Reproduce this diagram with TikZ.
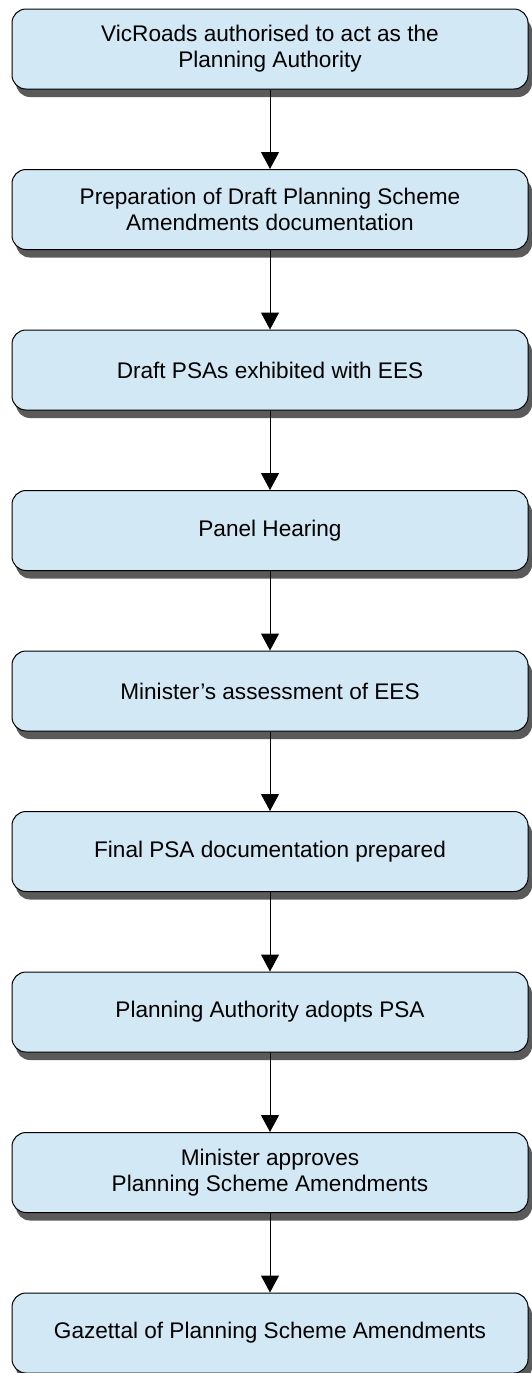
\documentclass[tikz,border=0pt]{standalone}
\usepackage{fontspec}
\setmainfont{Liberation Sans}
\usepackage{tikz}
\usetikzlibrary{positioning, arrows.meta, shadows}

\definecolor{boxblue}{HTML}{D2E8F5}
\definecolor{shadowgrey}{HTML}{5A5A5A}

\tikzset{
  stepbox/.style={draw=black, line width=0.5pt, fill=boxblue, rounded corners=7pt,
    minimum width=258pt, minimum height=40pt, align=center,
    font=\fontsize{11.3}{13}\selectfont,
    drop shadow={shadow xshift=2pt, shadow yshift=-4pt, fill=shadowgrey, opacity=1}},
  flow/.style={-{Triangle[width=9pt,length=8.5pt]}, line width=0.5pt}
}

\begin{document}
\begin{tikzpicture}[x=1pt, y=1pt]
\useasboundingbox (0,0) rectangle (265.5,-686.5);

\node[stepbox] (auth)    at (135,-24.5)  {VicRoads authorised to act as the\\Planning Authority};
\node[stepbox] (prep)    at (135,-104.75) {Preparation of Draft Planning Scheme\\Amendments documentation};
\node[stepbox] (exhibit) at (135,-185)   {Draft PSAs exhibited with EES};
\node[stepbox] (panel)   at (135,-265.25) {Panel Hearing};
\node[stepbox] (assess)  at (135,-345.5) {Minister’s assessment of EES};
\node[stepbox] (final)   at (135,-425.75) {Final PSA documentation prepared};
\node[stepbox] (adopt)   at (135,-506)   {Planning Authority adopts PSA};
\node[stepbox] (approve) at (135,-586.25) {Minister approves\\Planning Scheme Amendments};
\node[stepbox] (gazette) at (135,-666.5) {Gazettal of Planning Scheme Amendments};

\draw[flow] (auth) -- (prep);
\draw[flow] (prep) -- (exhibit);
\draw[flow] (exhibit) -- (panel);
\draw[flow] (panel) -- (assess);
\draw[flow] (assess) -- (final);
\draw[flow] (final) -- (adopt);
\draw[flow] (adopt) -- (approve);
\draw[flow] (approve) -- (gazette);
\end{tikzpicture}
\end{document}
